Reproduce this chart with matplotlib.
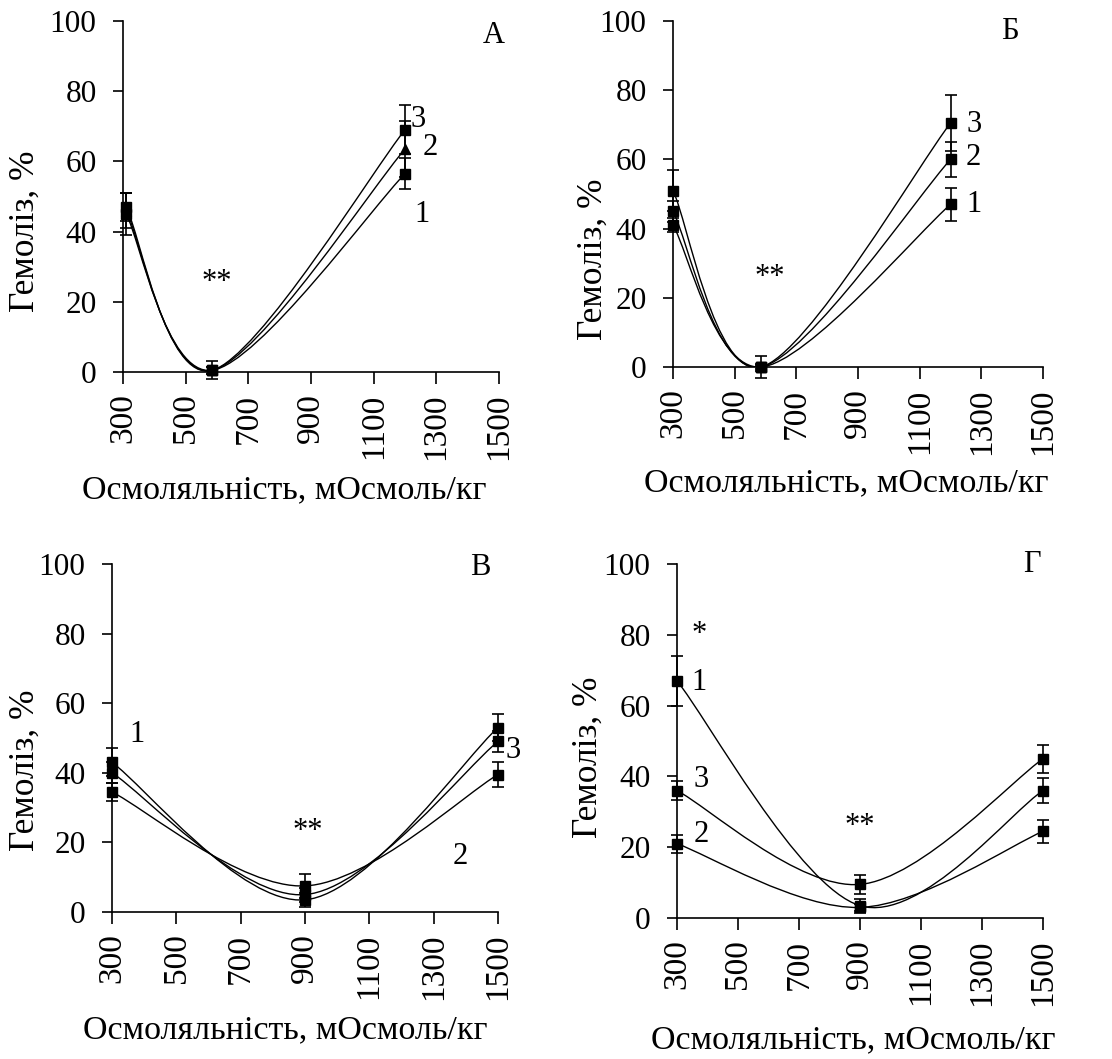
import matplotlib
matplotlib.use("Agg")
import matplotlib.pyplot as plt
from matplotlib.path import Path
from matplotlib.patches import PathPatch

plt.rcParams['font.family'] = ['Liberation Serif', 'DejaVu Serif']

# ---------------- data ----------------
x_A = [310, 585, 1200]
A1 = [45, 0.5, 56.5]; A1_err = [6, 2.5, 4.5]
A2 = [46, 0.5, 63.5]; A2_err = [5, 1, 8]
A3 = [47, 0.5, 69];   A3_err = [4, 1, 7]

x_B = [300, 585, 1200]
B1 = [41, 0, 47];   B1_err = [2, 0.5, 4.7]
B2 = [45, 0, 60];   B2_err = [3, 1, 5]
B3 = [51, 0, 70.5]; B3_err = [6, 3.2, 8]

x_C = [300, 900, 1500]
C1 = [43, 3.5, 53];   C1_err = [4, 2, 4]
C2 = [34.5, 7.5, 39.5]; C2_err = [2.5, 3.5, 3.5]
C3 = [40, 5, 49];     C3_err = [3, 2, 3]

x_D = [300, 900, 1500]
D1 = [67, 3.5, 36];  D1_err = [7, 2, 3.5]
D2 = [21, 3, 24.5];  D2_err = [2.5, 1, 3.3]
D3 = [36, 9.5, 45];  D3_err = [2.7, 2.7, 4]

x_ticks = [300, 500, 700, 900, 1100, 1300, 1500]
y_ticks = [0, 20, 40, 60, 80, 100]
xlabel = "Осмоляльність, мОсмоль/кг"
ylabel = "Гемоліз, %"

panels = [
    dict(rect=[0.1106, 0.6487, 0.3381, 0.3315], letter="А", lpos=(1482, 96),
         x=x_A, series=[(A1, A1_err, 's'), (A2, A2_err, '^'), (A3, A3_err, 's')],
         labels=[("3", 1242, 72), ("2", 1281, 64), ("1", 1255, 45)],
         stars=[("**", 600, 25.5)],
         xl=(0.43, -0.336), yl=(-0.261, 0.40)),
    dict(rect=[0.6052, 0.6534, 0.3328, 0.3268], letter="Б", lpos=(1393, 97),
         x=x_B, series=[(B1, B1_err, 's'), (B2, B2_err, 's'), (B3, B3_err, 's')],
         labels=[("3", 1275, 70), ("2", 1275, 60.5), ("1", 1275, 47)],
         stars=[("**", 615, 26)],
         xl=(0.468, -0.335), yl=(-0.216, 0.312)),
    dict(rect=[0.1007, 0.1388, 0.3471, 0.3286], letter="В", lpos=(1444, 99),
         x=x_C, series=[(C1, C1_err, 's'), (C2, C2_err, 's'), (C3, C3_err, 's')],
         labels=[("1", 377, 51), ("3", 1547, 46.5), ("2", 1382, 16)],
         stars=[("**", 910, 23)],
         xl=(0.448, -0.339), yl=(-0.225, 0.406)),
    dict(rect=[0.6088, 0.1331, 0.3292, 0.3343], letter="Г", lpos=(1463, 100),
         x=x_D, series=[(D1, D1_err, 's'), (D2, D2_err, 's'), (D3, D3_err, 's')],
         labels=[("1", 372, 66.5), ("3", 378, 39), ("2", 378, 23.5)],
         stars=[("*", 372, 80), ("**", 900, 26)],
         xl=(0.482, -0.345), yl=(-0.243, 0.455)),
]


def smooth_path(xs, ys):
    """Excel-like smoothed line through the points as cubic Bezier segments."""
    pts = list(zip(xs, ys))
    n = len(pts)
    verts = [pts[0]]
    codes = [Path.MOVETO]
    for i in range(n - 1):
        p_prev = pts[i - 1] if i > 0 else pts[i]
        p0 = pts[i]
        p1 = pts[i + 1]
        p_next = pts[i + 2] if i + 2 < n else pts[i + 1]
        c1 = (p0[0] + (p1[0] - p_prev[0]) / 6, p0[1] + (p1[1] - p_prev[1]) / 6)
        c2 = (p1[0] - (p_next[0] - p0[0]) / 6, p1[1] - (p_next[1] - p0[1]) / 6)
        verts += [c1, c2, p1]
        codes += [Path.CURVE4] * 3
    return Path(verts, codes)


fig = plt.figure(figsize=(11.12, 10.59), dpi=100)
fs_ytick = 22.5
fs_xtick = 24
fs_lab = 24.5
fs_txt = 22

for p in panels:
    ax = fig.add_axes(p["rect"])
    for ys, err, mk in p["series"]:
        ax.add_patch(PathPatch(smooth_path(p["x"], ys), fill=False,
                               edgecolor='black', lw=1.0, zorder=2))
        ax.errorbar(p["x"], ys, yerr=err, fmt='none', ecolor='black',
                    elinewidth=1.2, capsize=4, capthick=1.2, zorder=3, clip_on=False)
        ax.plot(p["x"], ys, linestyle='none', marker=mk, ms=7.5, color='black',
                zorder=4, clip_on=False)
    ax.set_xlim(300, 1500)
    ax.set_ylim(0, 100)
    ax.set_xticks(x_ticks)
    ax.set_yticks(y_ticks)
    ax.set_xticklabels([str(t) for t in x_ticks], rotation=90, fontsize=fs_xtick)
    ax.set_yticklabels([str(t) for t in y_ticks], fontsize=fs_ytick)
    ax.tick_params(axis='x', direction='out', length=8.5, width=1.2, pad=7, colors='black')
    ax.tick_params(axis='y', direction='out', length=7, width=1.2, pad=12, colors='black')
    for s in ['top', 'right']:
        ax.spines[s].set_visible(False)
    for s in ['left', 'bottom']:
        ax.spines[s].set_linewidth(1.2)
    ax.set_xlabel(xlabel, fontsize=fs_lab)
    ax.set_ylabel(ylabel, fontsize=fs_lab + 1)
    ax.xaxis.set_label_coords(*p["xl"])
    ax.yaxis.set_label_coords(*p["yl"])
    ax.xaxis.label.set_va('center')
    ax.yaxis.label.set_va('center')
    ax.yaxis.label.set_ha('center')
    ax.text(p["lpos"][0], p["lpos"][1], p["letter"], fontsize=fs_txt, ha='center',
            va='center', clip_on=False)
    for t, x, y in p["labels"]:
        ax.text(x, y, t, fontsize=fs_txt, ha='center', va='center', clip_on=False)
    for t, x, y in p["stars"]:
        ax.text(x, y, t, fontsize=fs_txt, ha='center', va='center', clip_on=False)

fig.savefig("out.png", dpi=100)
